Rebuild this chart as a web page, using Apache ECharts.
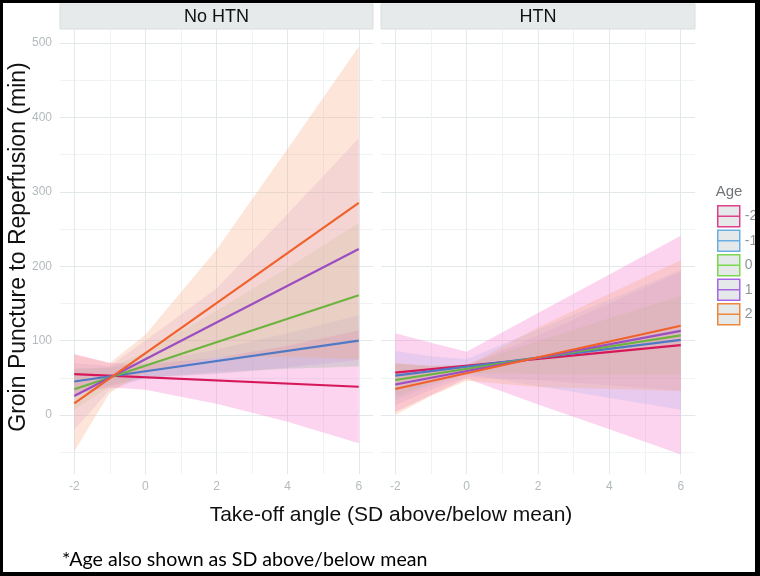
<!DOCTYPE html>
<html>
<head>
<meta charset="utf-8">
<script src="https://cdn.jsdelivr.net/npm/echarts@6/dist/echarts.min.js"></script>
<style>
  html, body { margin: 0; padding: 0; background: #fff; }
  #wrap { position: relative; width: 760px; height: 576px; }
  #main { width: 760px; height: 576px; }
  #frame { position: absolute; left: 0; top: 0; width: 760px; height: 576px; box-sizing: border-box;
           border-style: solid; border-color: #000; border-width: 3px 5px 4px 3px; pointer-events: none; }
</style>
</head>
<body>
<div id="wrap">
  <div id="main"></div>
  <div id="frame"></div>
</div>
<script>
// facets and groups
const panels = ['No HTN', 'HTN'];
const ages = ['-2', '-1', '0', '1', '2'];

// fitted lines, value at x = -2 and x = 6, one row per age group
const lineX = [-2, 6];
const noHtnFit = [[55, 38], [45, 100], [34.5, 161], [25.5, 223], [15.7, 285]];
const htnFit = [[57, 94], [53, 101], [47, 107], [41, 113], [35, 120]];

// confidence ribbons read at these x values
const bandX = [-2, -1, 0, 2, 4, 6];
const noHtnLow = [
  [28, 37, 34, 15, -9, -38],
  [28, 40, 50, 58, 62, 66],
  [7, 38, 50, 56, 62, 65],
  [-20, 34, 50, 55, 64, 74],
  [-49, 30, 58, 78, 78, 75]
];
const noHtnHigh = [
  [82, 70, 68, 77, 93, 114],
  [62, 64, 70, 88, 110, 134],
  [62, 64, 84, 140, 198, 258],
  [70, 66, 100, 170, 270, 372],
  [81, 70, 108, 222, 358, 495]
];
const htnLow = [
  [4, 27, 49, 14, -19, -53],
  [20, 39, 55, 39, 23, 7],
  [25, 42.5, 56, 55, 54, 54],
  [13, 34, 51, 47, 40, 33],
  [0, 25.6, 46, 37.5, 35, 32]
];
const htnHigh = [
  [110, 97, 85, 137, 189, 241],
  [86, 79, 75, 115, 155, 195],
  [69, 66.5, 68, 99, 130, 160],
  [69, 66, 67, 107, 150, 193],
  [70, 65.6, 66, 117.5, 163, 208]
];

// axis ticks
const xTicks = [-2, 0, 2, 4, 6];
const xMinor = [-1, 1, 3, 5];
const yTicks = [0, 100, 200, 300, 400, 500];
const yMinor = [-50, 50, 150, 250, 350, 450];

const lineColors = ['#d6185a', '#4f79c4', '#6db33f', '#9a4ec2', '#f0622a'];
const keyColors = ['#e0408a', '#6aaee4', '#7bd84c', '#a567e6', '#f0873c'];
const bandFills = [
  'rgba(246,120,205,0.32)',
  'rgba(150,160,240,0.18)',
  'rgba(160,200,110,0.18)',
  'rgba(190,140,220,0.20)',
  'rgba(248,170,130,0.30)'
];

const sans = '"Liberation Sans", Arial, sans-serif';
const gridMajor = '#e3e9eb';
const gridMinor = '#eff3f4';

const chart = echarts.init(document.getElementById('main'));

const grids = [
  { left: 60, top: 29, width: 313, height: 445, outerBoundsMode: 'none' },
  { left: 381, top: 29, width: 314, height: 445, outerBoundsMode: 'none' }
];

const xAxes = [];
const yAxes = [];
panels.forEach((p, g) => {
  xAxes.push({
    type: 'value', gridIndex: g, min: -2.4, max: 6.4,
    axisLine: { show: true, lineStyle: { color: gridMajor } },
    axisTick: { show: false, customValues: xTicks },
    axisLabel: { customValues: xTicks, color: '#b3babd', fontSize: 12, fontFamily: sans, margin: 7 },
    splitLine: { show: true, lineStyle: { color: gridMajor } }
  });
  xAxes.push({
    type: 'value', gridIndex: g, min: -2.4, max: 6.4,
    axisLine: { show: false }, axisLabel: { show: false },
    axisTick: { show: false, customValues: xMinor },
    splitLine: { show: true, lineStyle: { color: gridMinor } }
  });
  yAxes.push({
    type: 'value', gridIndex: g, min: -79.3, max: 518.8,
    axisLine: { show: g === 0, lineStyle: { color: gridMajor } },
    axisTick: { show: false, customValues: yTicks },
    axisLabel: { show: g === 0, customValues: yTicks, color: '#b3babd', fontSize: 12, fontFamily: sans, margin: 8 },
    splitLine: { show: true, lineStyle: { color: gridMajor } }
  });
  yAxes.push({
    type: 'value', gridIndex: g, min: -79.3, max: 518.8,
    axisLine: { show: false }, axisLabel: { show: false },
    axisTick: { show: false, customValues: yMinor },
    splitLine: { show: true, lineStyle: { color: gridMinor } }
  });
});

function bandSeries(g, i, low, high) {
  return {
    type: 'custom', xAxisIndex: g * 2, yAxisIndex: g * 2, silent: true, z: 2,
    data: bandX.map((x, k) => [x, low[k], high[k]]),
    encode: { x: 0, y: [1, 2] },
    renderItem: function (params, api) {
      if (params.dataIndex !== 0) return;
      const top = [], bottom = [];
      for (let k = 0; k < bandX.length; k++) {
        top.push(api.coord([bandX[k], high[k]]));
        bottom.unshift(api.coord([bandX[k], low[k]]));
      }
      return { type: 'polygon', shape: { points: top.concat(bottom) }, style: { fill: bandFills[i] } };
    }
  };
}

function lineSeries(g, i, fit) {
  return {
    type: 'line', name: ages[i], xAxisIndex: g * 2, yAxisIndex: g * 2, z: 3, silent: true,
    data: lineX.map((x, k) => [x, fit[k]]),
    showSymbol: false,
    lineStyle: { width: 2.2, color: lineColors[i] },
    itemStyle: { color: lineColors[i] }
  };
}

const series = [];
ages.forEach((a, i) => {
  series.push(bandSeries(0, i, noHtnLow[i], noHtnHigh[i]));
  series.push(bandSeries(1, i, htnLow[i], htnHigh[i]));
});
ages.forEach((a, i) => {
  series.push(lineSeries(0, i, noHtnFit[i]));
  series.push(lineSeries(1, i, htnFit[i]));
});

const option = {
  animation: false,
  backgroundColor: '#fff',
  grid: grids,
  xAxis: xAxes,
  yAxis: yAxes,
  legend: {
    orient: 'vertical', left: 717, top: 205, padding: 0,
    itemWidth: 22, itemHeight: 21, itemGap: 2,
    selectedMode: false,
    textStyle: { color: '#8f9496', fontSize: 14, fontFamily: sans },
    data: ages.map((a, i) => ({
      name: a,
      icon: 'path://M0,0L22,0L22,21L0,21Z M0,10.5L22,10.5',
      itemStyle: { color: '#e6e9e9', borderColor: keyColors[i], borderWidth: 1.5 }
    }))
  },
  graphic: [
    { type: 'rect', shape: { x: 60, y: 4, width: 313, height: 25 }, style: { fill: '#e6eaea', stroke: '#d9dede', lineWidth: 1 } },
    { type: 'rect', shape: { x: 381, y: 4, width: 314, height: 25 }, style: { fill: '#e6eaea', stroke: '#d9dede', lineWidth: 1 } },
    { type: 'text', x: 216.5, y: 17, style: { text: panels[0], fill: '#111', font: '18px ' + sans, textAlign: 'center', textVerticalAlign: 'middle' } },
    { type: 'text', x: 538, y: 17, style: { text: panels[1], fill: '#111', font: '18px ' + sans, textAlign: 'center', textVerticalAlign: 'middle' } },
    { type: 'text', x: 19, y: 247, rotation: Math.PI / 2, style: { text: 'Groin Puncture to Reperfusion (min)', fill: '#111', font: '23px ' + sans, textAlign: 'center', textVerticalAlign: 'middle' } },
    { type: 'text', x: 391, y: 515, style: { text: 'Take-off angle (SD above/below mean)', fill: '#111', font: '21px ' + sans, textAlign: 'center', textVerticalAlign: 'middle' } },
    { type: 'text', x: 62, y: 560, style: { text: '*Age also shown as SD above/below mean', fill: '#000', font: '19.6px Lato, "Open Sans", sans-serif', textAlign: 'left', textVerticalAlign: 'middle' } },
    { type: 'text', x: 729, y: 192, style: { text: 'Age', fill: '#707578', font: '15px ' + sans, textAlign: 'center', textVerticalAlign: 'middle' } }
  ],
  series: series
};

chart.setOption(option);
</script>
</body>
</html>
